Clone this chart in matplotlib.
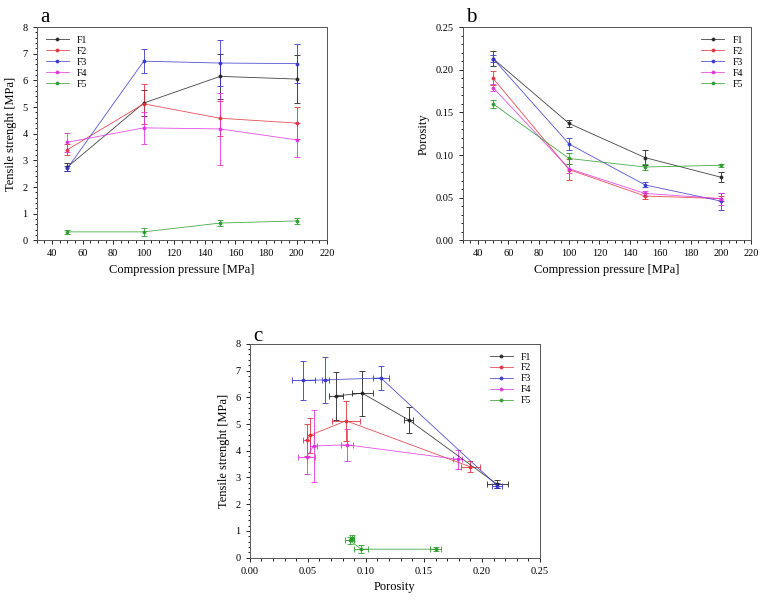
import numpy as np
import matplotlib
matplotlib.use("Agg")
import matplotlib.pyplot as plt

plt.rcParams['font.family'] = ['Liberation Serif', 'DejaVu Serif']

# compression pressure [MPa]
pressure = [50, 100, 150, 200]
names = ["F1", "F2", "F3", "F4", "F5"]
colors = ["#222222", "#e0303a", "#3535c8", "#e030e0", "#2a9a2a"]

# tensile strength [MPa] and its error
tensile = [
    [2.75, 5.15, 6.15, 6.05],
    [3.40, 5.12, 4.58, 4.40],
    [2.70, 6.72, 6.65, 6.63],
    [3.68, 4.22, 4.18, 3.77],
    [0.32, 0.32, 0.65, 0.73],
]
tensile_err = [
    [0.15, 0.50, 0.85, 0.90],
    [0.20, 0.75, 0.65, 0.60],
    [0.10, 0.45, 0.85, 0.72],
    [0.35, 0.60, 1.35, 0.65],
    [0.08, 0.15, 0.12, 0.12],
]

# porosity and its error
porosity = [
    [0.213, 0.137, 0.097, 0.074],
    [0.190, 0.083, 0.052, 0.049],
    [0.213, 0.113, 0.065, 0.046],
    [0.179, 0.084, 0.055, 0.049],
    [0.160, 0.096, 0.086, 0.088],
]
porosity_err = [
    [0.009, 0.004, 0.009, 0.006],
    [0.008, 0.012, 0.003, 0.003],
    [0.004, 0.007, 0.003, 0.010],
    [0.004, 0.005, 0.003, 0.007],
    [0.005, 0.006, 0.004, 0.002],
]

fig = plt.figure(figsize=(7.66, 6.01), dpi=100)
ax_a = fig.add_axes([0.048, 0.600, 0.379, 0.355])
ax_b = fig.add_axes([0.604, 0.600, 0.377, 0.355])
ax_c = fig.add_axes([0.326, 0.072, 0.379, 0.356])


def style(ax):
    for s in ax.spines.values():
        s.set_color("#555555")
        s.set_linewidth(0.7)
    ax.tick_params(which="both", direction="out", labelsize=7.5, width=0.6,
                   top=False, right=False)
    ax.tick_params(which="major", length=3)
    ax.tick_params(which="minor", length=1.8)
    ax.minorticks_on()


def draw(ax, xs, ys, yerrs, xerrs=None):
    for i in range(len(names)):
        xe = xerrs[i] if xerrs is not None else None
        ax.errorbar(xs[i], ys[i], yerr=yerrs[i], xerr=xe, color=colors[i],
                    lw=0.6, ms=1.8, marker="o", capsize=2, elinewidth=0.7,
                    capthick=0.7, label=names[i], alpha=0.85)


def legend(ax, loc):
    h, l = ax.get_legend_handles_labels()
    ax.legend([x[0] for x in h], l, loc=loc, frameon=False, fontsize=7,
              handlelength=2.4, labelspacing=0.2)


# a
draw(ax_a, [pressure] * 5, tensile, tensile_err)
ax_a.set_xlim(30, 220)
ax_a.set_ylim(0, 8)
ax_a.set_xticks(np.arange(40, 221, 20))
ax_a.set_yticks(np.arange(0, 9, 1))
ax_a.set_xlabel("Compression pressure [MPa]", fontsize=9)
ax_a.set_ylabel("Tensile strenght [MPa]", fontsize=9)
style(ax_a)
legend(ax_a, "upper left")
fig.text(0.052, 0.963, "a", fontsize=15)

# b
draw(ax_b, [pressure] * 5, porosity, porosity_err)
ax_b.set_xlim(30, 220)
ax_b.set_ylim(0, 0.25)
ax_b.set_xticks(np.arange(40, 221, 20))
ax_b.set_yticks(np.arange(0, 0.26, 0.05))
ax_b.yaxis.set_major_formatter(matplotlib.ticker.FormatStrFormatter("%.2f"))
ax_b.set_xlabel("Compression pressure [MPa]", fontsize=9)
ax_b.set_ylabel("Porosity", fontsize=9)
style(ax_b)
legend(ax_b, "upper right")
fig.text(0.608, 0.963, "b", fontsize=15)

# c
draw(ax_c, porosity, tensile, tensile_err, porosity_err)
ax_c.set_xlim(0, 0.25)
ax_c.set_ylim(0, 8)
ax_c.set_xticks(np.arange(0, 0.26, 0.05))
ax_c.xaxis.set_major_formatter(matplotlib.ticker.FormatStrFormatter("%.2f"))
ax_c.set_yticks(np.arange(0, 9, 1))
ax_c.set_xlabel("Porosity", fontsize=9)
ax_c.set_ylabel("Tensile strenght [MPa]", fontsize=9)
style(ax_c)
legend(ax_c, "upper right")
fig.text(0.330, 0.433, "c", fontsize=15)

fig.savefig("out.png", dpi=100)
